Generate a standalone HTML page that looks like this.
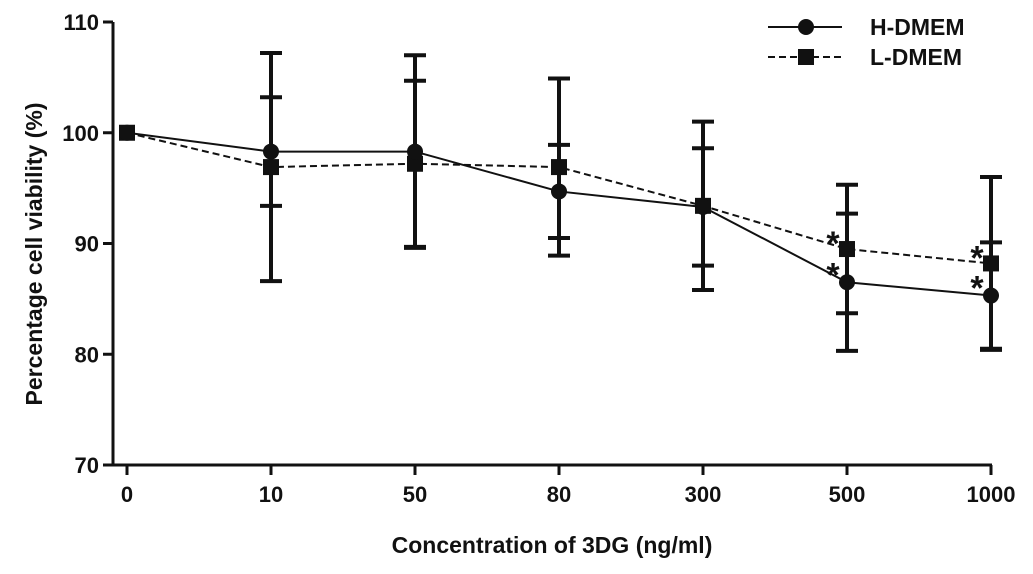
<!DOCTYPE html>
<html><head><meta charset="utf-8"><style>
html,body{margin:0;padding:0;background:#fff;}
svg text{font-family:"Liberation Sans",Arial,sans-serif;font-weight:bold;fill:#111;}
</style></head><body>
<svg id="chart" width="1033" height="569" xmlns="http://www.w3.org/2000/svg"></svg>
<script>
const categories = ["0","10","50","80","300","500","1000"];
const hMean = [100, 98.3, 98.3, 94.7, 93.3, 86.5, 85.3];
const hErr  = [0, 4.9, 8.7, 4.2, 5.3, 6.2, 4.8];
const lMean = [100, 96.9, 97.2, 96.9, 93.4, 89.5, 88.2];
const lErr  = [0, 10.3, 7.5, 8.0, 7.6, 5.8, 7.8];
const hStar = [false,false,false,false,false,true,true];
const lStar = [false,false,false,false,false,true,true];
const yTicks = [70, 80, 90, 100, 110];

const NS="http://www.w3.org/2000/svg";
const svg=document.getElementById('chart');
const x0=127, dx=144, yTop=22, yBot=465, yMin=70, yMax=110, axisX=113;
const X=i=>x0+i*dx;
const Y=v=>yBot-(v-yMin)/(yMax-yMin)*(yBot-yTop);
function mk(tag,attrs,parent){const e=document.createElementNS(NS,tag);for(const k in attrs)e.setAttribute(k,attrs[k]);(parent||svg).appendChild(e);return e;}

let a=mk('line',{x1:axisX,y1:yTop,x2:axisX,y2:yBot,stroke:'#111','stroke-width':3});


a=mk('line',{x1:axisX,y1:yBot,x2:X(6)+1,y2:yBot,stroke:'#111','stroke-width':3});


yTicks.forEach(v=>{
  mk('line',{x1:axisX-10,y1:Y(v),x2:axisX,y2:Y(v),stroke:'#111','stroke-width':3});
  const t=mk('text',{x:axisX-14,y:Y(v)+8,'text-anchor':'end','font-size':22});
  t.textContent=v;
  
  
});
categories.forEach((c,i)=>{
  mk('line',{x1:X(i),y1:yBot,x2:X(i),y2:yBot+10,stroke:'#111','stroke-width':3});
  const t=mk('text',{x:X(i),y:yBot+37,'text-anchor':'middle','font-size':22});
  t.textContent=c;
  
  
});
let t=mk('text',{x:552,y:553,'text-anchor':'middle','font-size':23});
t.textContent='Concentration of 3DG (ng/ml)';


t=mk('text',{x:0,y:0,'text-anchor':'middle','font-size':23,transform:'translate(42,254) rotate(-90)'});
t.textContent='Percentage cell  viability  (%)';



function series(mean,err,dashed,marker,name,stars,starDy){
  const pts=mean.map((v,i)=>X(i)+','+Y(v)).join(' ');
  const pl=mk('polyline',{points:pts,fill:'none',stroke:'#111','stroke-width':2,'stroke-dasharray':dashed?'7,4':'none'});
  
  
  mean.forEach((v,i)=>{
    if(err[i]>0){
      const g=mk('g',{stroke:'#111','stroke-width':4});
      
      
      mk('line',{x1:X(i),y1:Y(v+err[i]),x2:X(i),y2:Y(v-err[i])},g);
      mk('line',{x1:X(i)-11,y1:Y(v+err[i]),x2:X(i)+11,y2:Y(v+err[i])},g);
      mk('line',{x1:X(i)-11,y1:Y(v-err[i]),x2:X(i)+11,y2:Y(v-err[i])},g);
    }
    let m;
    if(marker==='circle') m=mk('circle',{cx:X(i),cy:Y(v),r:8,fill:'#111'});
    else m=mk('rect',{x:X(i)-8,y:Y(v)-8,width:16,height:16,fill:'#111'});
    
    
    if(stars[i]){
      const s=mk('text',{x:X(i)-14,y:Y(v)+starDy,'text-anchor':'middle','font-size':34,'font-weight':'normal'});
      s.textContent='*';
      
      
    }
  });
}
series(lMean,lErr,true,'square','l-dmem',lStar,6);
series(hMean,hErr,false,'circle','h-dmem',hStar,4);

function legend(y,dashed,marker,label,name){
  const g=mk('g',{});
  
  
  mk('line',{x1:768,y1:y,x2:842,y2:y,stroke:'#111','stroke-width':2,'stroke-dasharray':dashed?'7,4':'none'},g);
  if(marker==='circle') mk('circle',{cx:806,cy:y,r:8,fill:'#111'},g);
  else mk('rect',{x:798,y:y-8,width:16,height:16,fill:'#111'},g);
  const tx=mk('text',{x:870,y:y+8,'font-size':23},g);
  tx.textContent=label;
}
legend(27,false,'circle','H-DMEM','h-dmem');
legend(57,true,'square','L-DMEM','l-dmem');
</script>
</body></html>
